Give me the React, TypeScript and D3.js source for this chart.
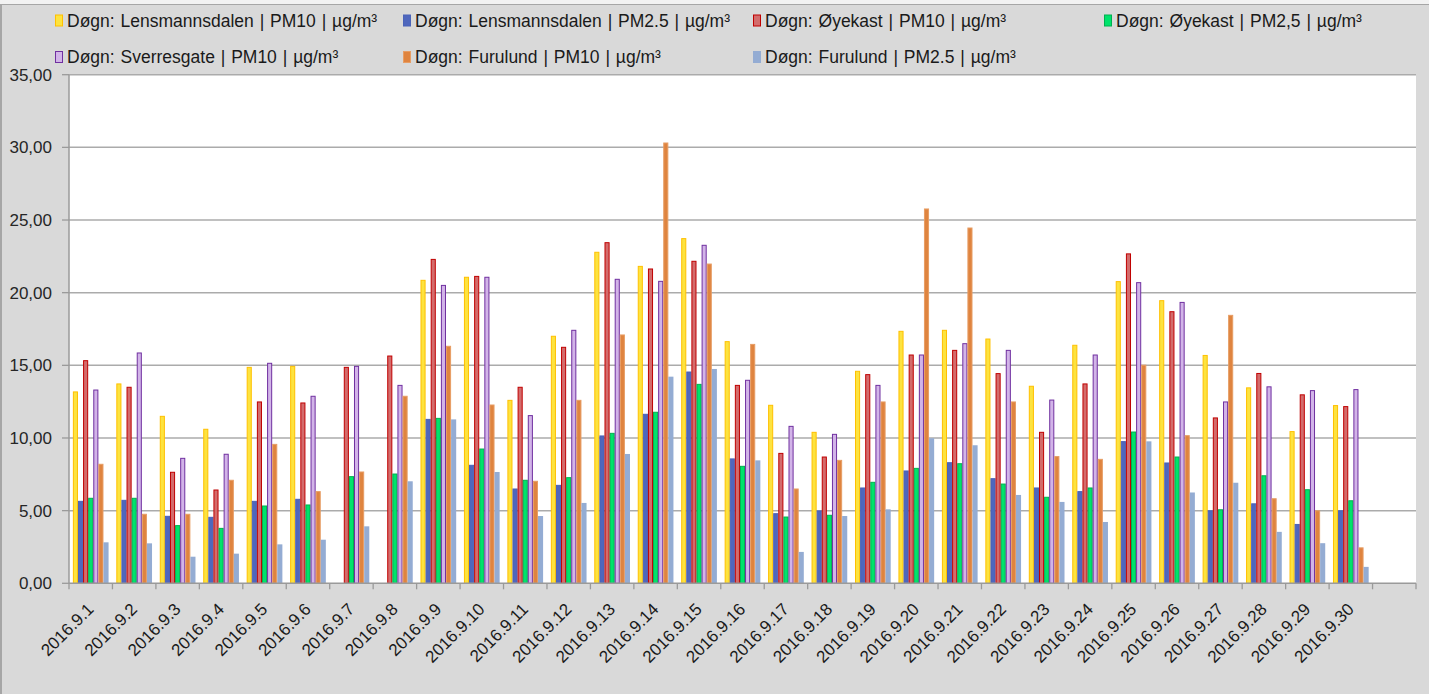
import React from "react";
import { scaleBand, scaleLinear, range } from "d3";

// tick labels (the 31st slot is empty, like the source sheet)
const days = [
  "2016.9.1", "2016.9.2", "2016.9.3", "2016.9.4", "2016.9.5", "2016.9.6",
  "2016.9.7", "2016.9.8", "2016.9.9", "2016.9.10", "2016.9.11", "2016.9.12",
  "2016.9.13", "2016.9.14", "2016.9.15", "2016.9.16", "2016.9.17", "2016.9.18",
  "2016.9.19", "2016.9.20", "2016.9.21", "2016.9.22", "2016.9.23", "2016.9.24",
  "2016.9.25", "2016.9.26", "2016.9.27", "2016.9.28", "2016.9.29", "2016.9.30",
  "",
];

const lensPM10 = [13.17, 13.72, 11.49, 10.6, 14.86, 14.93, null, null, 20.85, 21.06, 12.59, 17.0, 22.78, 21.81, 23.72, 16.63, 12.25, 10.39, 14.59, 17.34, 17.41, 16.81, 13.56, 16.38, 20.76, 19.45, 15.68, 13.45, 10.44, 12.23];
const lensPM25 = [5.64, 5.71, 4.61, 4.54, 5.64, 5.78, null, null, 11.28, 8.12, 6.49, 6.74, 10.14, 11.63, 14.54, 8.56, 4.79, 4.98, 6.56, 7.73, 8.3, 7.2, 6.56, 6.31, 9.75, 8.28, 4.99, 5.47, 4.05, 4.99];
const oyePM10 = [15.32, 13.49, 7.64, 6.42, 12.48, 12.41, 14.86, 15.64, 22.29, 21.12, 13.49, 16.24, 23.44, 21.63, 22.16, 13.62, 8.94, 8.69, 14.36, 15.71, 16.03, 14.43, 10.39, 13.72, 22.67, 18.69, 11.38, 14.44, 12.97, 12.16];
const oyePM25 = [5.85, 5.85, 3.97, 3.78, 5.32, 5.39, 7.34, 7.52, 11.35, 9.24, 7.09, 7.27, 10.32, 11.77, 13.69, 8.05, 4.56, 4.68, 6.95, 7.91, 8.23, 6.83, 5.92, 6.56, 10.41, 8.69, 5.06, 7.4, 6.44, 5.68];
const sverPM10 = [13.3, 15.85, 8.6, 8.88, 15.14, 12.87, 14.93, 13.62, 20.5, 21.06, 11.54, 17.41, 20.92, 20.78, 23.26, 13.97, 10.8, 10.25, 13.62, 15.71, 16.49, 16.03, 12.61, 15.71, 20.69, 19.33, 12.48, 13.52, 13.26, 13.33];
const furPM10 = [8.19, 4.75, 4.75, 7.09, 9.56, 6.31, 7.66, 12.87, 16.31, 12.27, 7.02, 12.59, 17.09, 30.3, 21.97, 16.44, 6.49, 8.46, 12.48, 25.76, 24.45, 12.48, 8.72, 8.53, 15.01, 10.16, 18.44, 5.82, 4.99, 2.44];
const furPM25 = [2.82, 2.75, 1.83, 2.04, 2.68, 3.0, 3.92, 7.02, 11.28, 7.66, 4.63, 5.53, 8.9, 14.22, 14.75, 8.46, 2.16, 4.63, 5.09, 9.98, 9.5, 6.08, 5.6, 4.22, 9.77, 6.25, 6.92, 3.54, 2.76, 1.13];

const seriesNames = [
  "Døgn: Lensmannsdalen | PM10 | µg/m³",
  "Døgn: Lensmannsdalen | PM2.5 | µg/m³",
  "Døgn: Øyekast | PM10 | µg/m³",
  "Døgn: Øyekast | PM2,5 | µg/m³",
  "Døgn: Sverresgate  | PM10 | µg/m³",
  "Døgn: Furulund | PM10 | µg/m³",
  "Døgn: Furulund | PM2.5 | µg/m³",
];
const seriesValues = [lensPM10, lensPM25, oyePM10, oyePM25, sverPM10, furPM10, furPM25];
const fills = ["#fde33f", "#4f67bd", "#d36c6c", "#00e36b", "#d2b4e8", "#df843f", "#94acd3"];
const strokes = ["#ffc000", "#4a63b8", "#c00000", "#00b050", "#7030a0", "#e79d64", "#94acd3"];

const yTicks = [0, 5, 10, 15, 20, 25, 30, 35];

// legend layout: column x, row
const legendPos = [
  [55, 0], [403, 0], [753, 0], [1104, 0],
  [55, 1], [403, 1], [753, 1],
];

const W = 1429;
const H = 694;
const left = 69;
const right = 1416;
const top = 74.7;
const bottom = 583.3;

const fmt = (v: number) => v.toFixed(2).replace(".", ",");

export default function App() {
  const x = scaleBand<string>()
    .domain(range(days.length).map(String))
    .range([left, right]);
  const inner = scaleBand<number>()
    .domain(range(seriesValues.length))
    .range([0, x.bandwidth()])
    .paddingOuter(0.76);
  const y = scaleLinear().domain([0, 35]).range([bottom, top]);

  const font = "'Liberation Sans', Arial, sans-serif";

  return (
    <svg
      width={W}
      height={H}
      style={{ position: "fixed", left: 0, top: 0, display: "block" }}
      fontFamily={font}
    >
      <rect x={0} y={0} width={W} height={H} fill="#d9d9d9" />
      <rect x={0} y={0} width={W} height={4} fill="#f2f2f2" />
      <line x1={0} x2={W} y1={4.5} y2={4.5} stroke="#a6a6a6" />
      <line x1={1} x2={1} y1={4} y2={H} stroke="#a6a6a6" strokeWidth={2} />

      {/* legend */}
      {seriesNames.map((name, i) => {
        const [lx, row] = legendPos[i];
        const ly = row === 0 ? 20.5 : 57;
        return (
          <g key={name}>
            <rect x={lx + 0.5} y={ly - 5.5} width={7} height={11} fill={fills[i]} stroke={strokes[i]} />
            <text
              x={lx + 12}
              y={ly}
              dy="0.35em"
              fontSize={17.5}
              wordSpacing={1}
              fill="#1a1a1a"
            >
              {name}
            </text>
          </g>
        );
      })}

      {/* plot area */}
      <rect x={left} y={top} width={right - left} height={bottom - top} fill="#ffffff" />
      {yTicks.map((t) => (
        <g key={t}>
          {t > 0 && (
            <line x1={left} x2={right} y1={y(t)} y2={y(t)} stroke="#ababab" strokeWidth={1.5} />
          )}
          <line x1={left - 7} x2={left} y1={y(t)} y2={y(t)} stroke="#9a9a9a" strokeWidth={1.3} />
          <text x={52} y={y(t)} dy="0.35em" textAnchor="end" fontSize={17} fill="#262626">
            {fmt(t)}
          </text>
        </g>
      ))}

      {/* bars */}
      {seriesValues.map((vals, s) => (
        <g key={s}>
          {vals.map((v, i) => {
            if (v === null) return null;
            const bx = (x(String(i)) ?? 0) + (inner(s) ?? 0);
            const bw = inner.bandwidth();
            const hasStroke = s !== 6;
            return (
              <rect
                key={i}
                x={bx + (hasStroke ? 0.5 : 0)}
                y={y(v)}
                width={bw - (hasStroke ? 1 : 0)}
                height={y(0) - y(v)}
                fill={fills[s]}
                stroke={hasStroke ? strokes[s] : "none"}
                strokeWidth={1}
              />
            );
          })}
        </g>
      ))}

      {/* axes */}
      <line x1={left} x2={left} y1={top} y2={bottom} stroke="#9a9a9a" strokeWidth={1.5} />
      <line x1={left} x2={right} y1={bottom} y2={bottom} stroke="#9a9a9a" strokeWidth={1.5} />
      {range(days.length + 1).map((i) => {
        const tx = i < days.length ? x(String(i)) ?? 0 : right;
        return <line key={i} x1={tx} x2={tx} y1={bottom} y2={bottom + 6} stroke="#9a9a9a" strokeWidth={1.3} />;
      })}
      {days.map((d, i) => {
        const cx = (x(String(i)) ?? 0) + x.bandwidth() / 2;
        return (
          <text
            key={i}
            transform={`translate(${cx + 4},${bottom + 27}) rotate(-45)`}
            textAnchor="end"
            fontSize={17}
            fill="#1a1a1a"
          >
            {d}
          </text>
        );
      })}
    </svg>
  );
}
